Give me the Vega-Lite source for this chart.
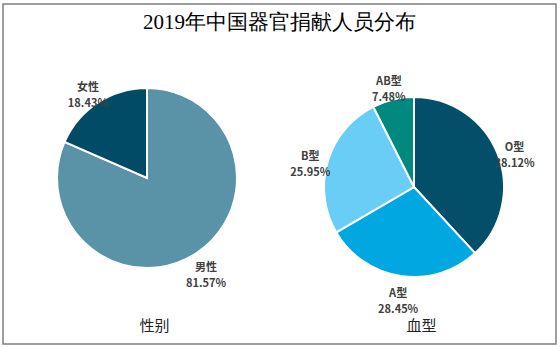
{
  "$schema": "https://vega.github.io/schema/vega-lite/v6.json",
  "width": 553,
  "height": 340,
  "autosize": {"type": "none"},
  "padding": {"left": 3, "top": 4, "right": 4, "bottom": 4},
  "background": "white",
  "config": {
    "view": {"stroke": "#7f7f7f", "strokeWidth": 1.5},
    "font": "Noto Sans CJK SC"
  },
  "title": {
    "text": "2019年中国器官捐献人员分布",
    "font": "Liberation Serif",
    "fontSize": 21,
    "fontWeight": "normal",
    "color": "#000000",
    "anchor": "middle",
    "baseline": "top",
    "offset": -29
  },
  "data": {
    "values": [
      {"group": "性别", "name": "男性", "value": 81.57},
      {"group": "性别", "name": "女性", "value": 18.43},
      {"group": "血型", "name": "O型", "value": 38.12},
      {"group": "血型", "name": "A型", "value": 28.45},
      {"group": "血型", "name": "B型", "value": 25.95},
      {"group": "血型", "name": "AB型", "value": 7.48}
    ]
  },
  "transform": [
    {"window": [{"op": "row_number", "as": "idx"}], "groupby": ["group"]},
    {"stack": "value", "groupby": ["group"], "sort": [{"field": "idx", "order": "ascending"}], "as": ["s0", "s1"]},
    {"calculate": "(datum.s0 + datum.s1) / 2", "as": "mid"},
    {"calculate": "datum.name + '\\n' + format(datum.value, '.2f') + '%'", "as": "label"}
  ],
  "encoding": {
    "x": {
      "field": "group", "type": "nominal",
      "scale": {"type": "point", "domain": ["性别", "血型"], "range": [144, 411], "padding": 0},
      "axis": {
        "title": null, "orient": "bottom", "domain": false, "ticks": false,
        "labelFontSize": 15, "labelColor": "#222222", "labelFont": "Noto Sans CJK SC",
        "labelPadding": 0, "offset": -26, "labelAngle": 0, "labelBaseline": "top", "grid": false,
        "labelOffset": 7
      }
    },
    "y": {
      "field": "group", "type": "nominal",
      "scale": {"type": "point", "domain": ["性别", "血型"], "range": [174, 183], "padding": 0},
      "axis": null
    }
  },
  "layer": [
    {
      "mark": {"type": "arc", "outerRadius": 90, "stroke": "white", "strokeWidth": 2},
      "encoding": {
        "theta": {"field": "s0", "type": "quantitative", "scale": {"domain": [0, 100]}},
        "theta2": {"field": "s1"},
        "color": {
          "field": "name", "type": "nominal", "legend": null,
          "scale": {
            "domain": ["男性", "女性", "O型", "A型", "B型", "AB型"],
            "range": ["#5A93A7", "#024B66", "#034F6A", "#00A7E0", "#69CDF6", "#00897F"]
          }
        }
      }
    },
    {
      "mark": {"type": "text", "radius": 108, "lineBreak": "\n", "fontSize": 11, "fontWeight": "bold", "color": "#404040", "lineHeight": 16, "align": "center", "baseline": "middle"},
      "encoding": {
        "theta": {"field": "mid", "type": "quantitative", "scale": {"domain": [0, 100]}},
        "text": {"field": "label", "type": "nominal"}
      }
    }
  ]
}
